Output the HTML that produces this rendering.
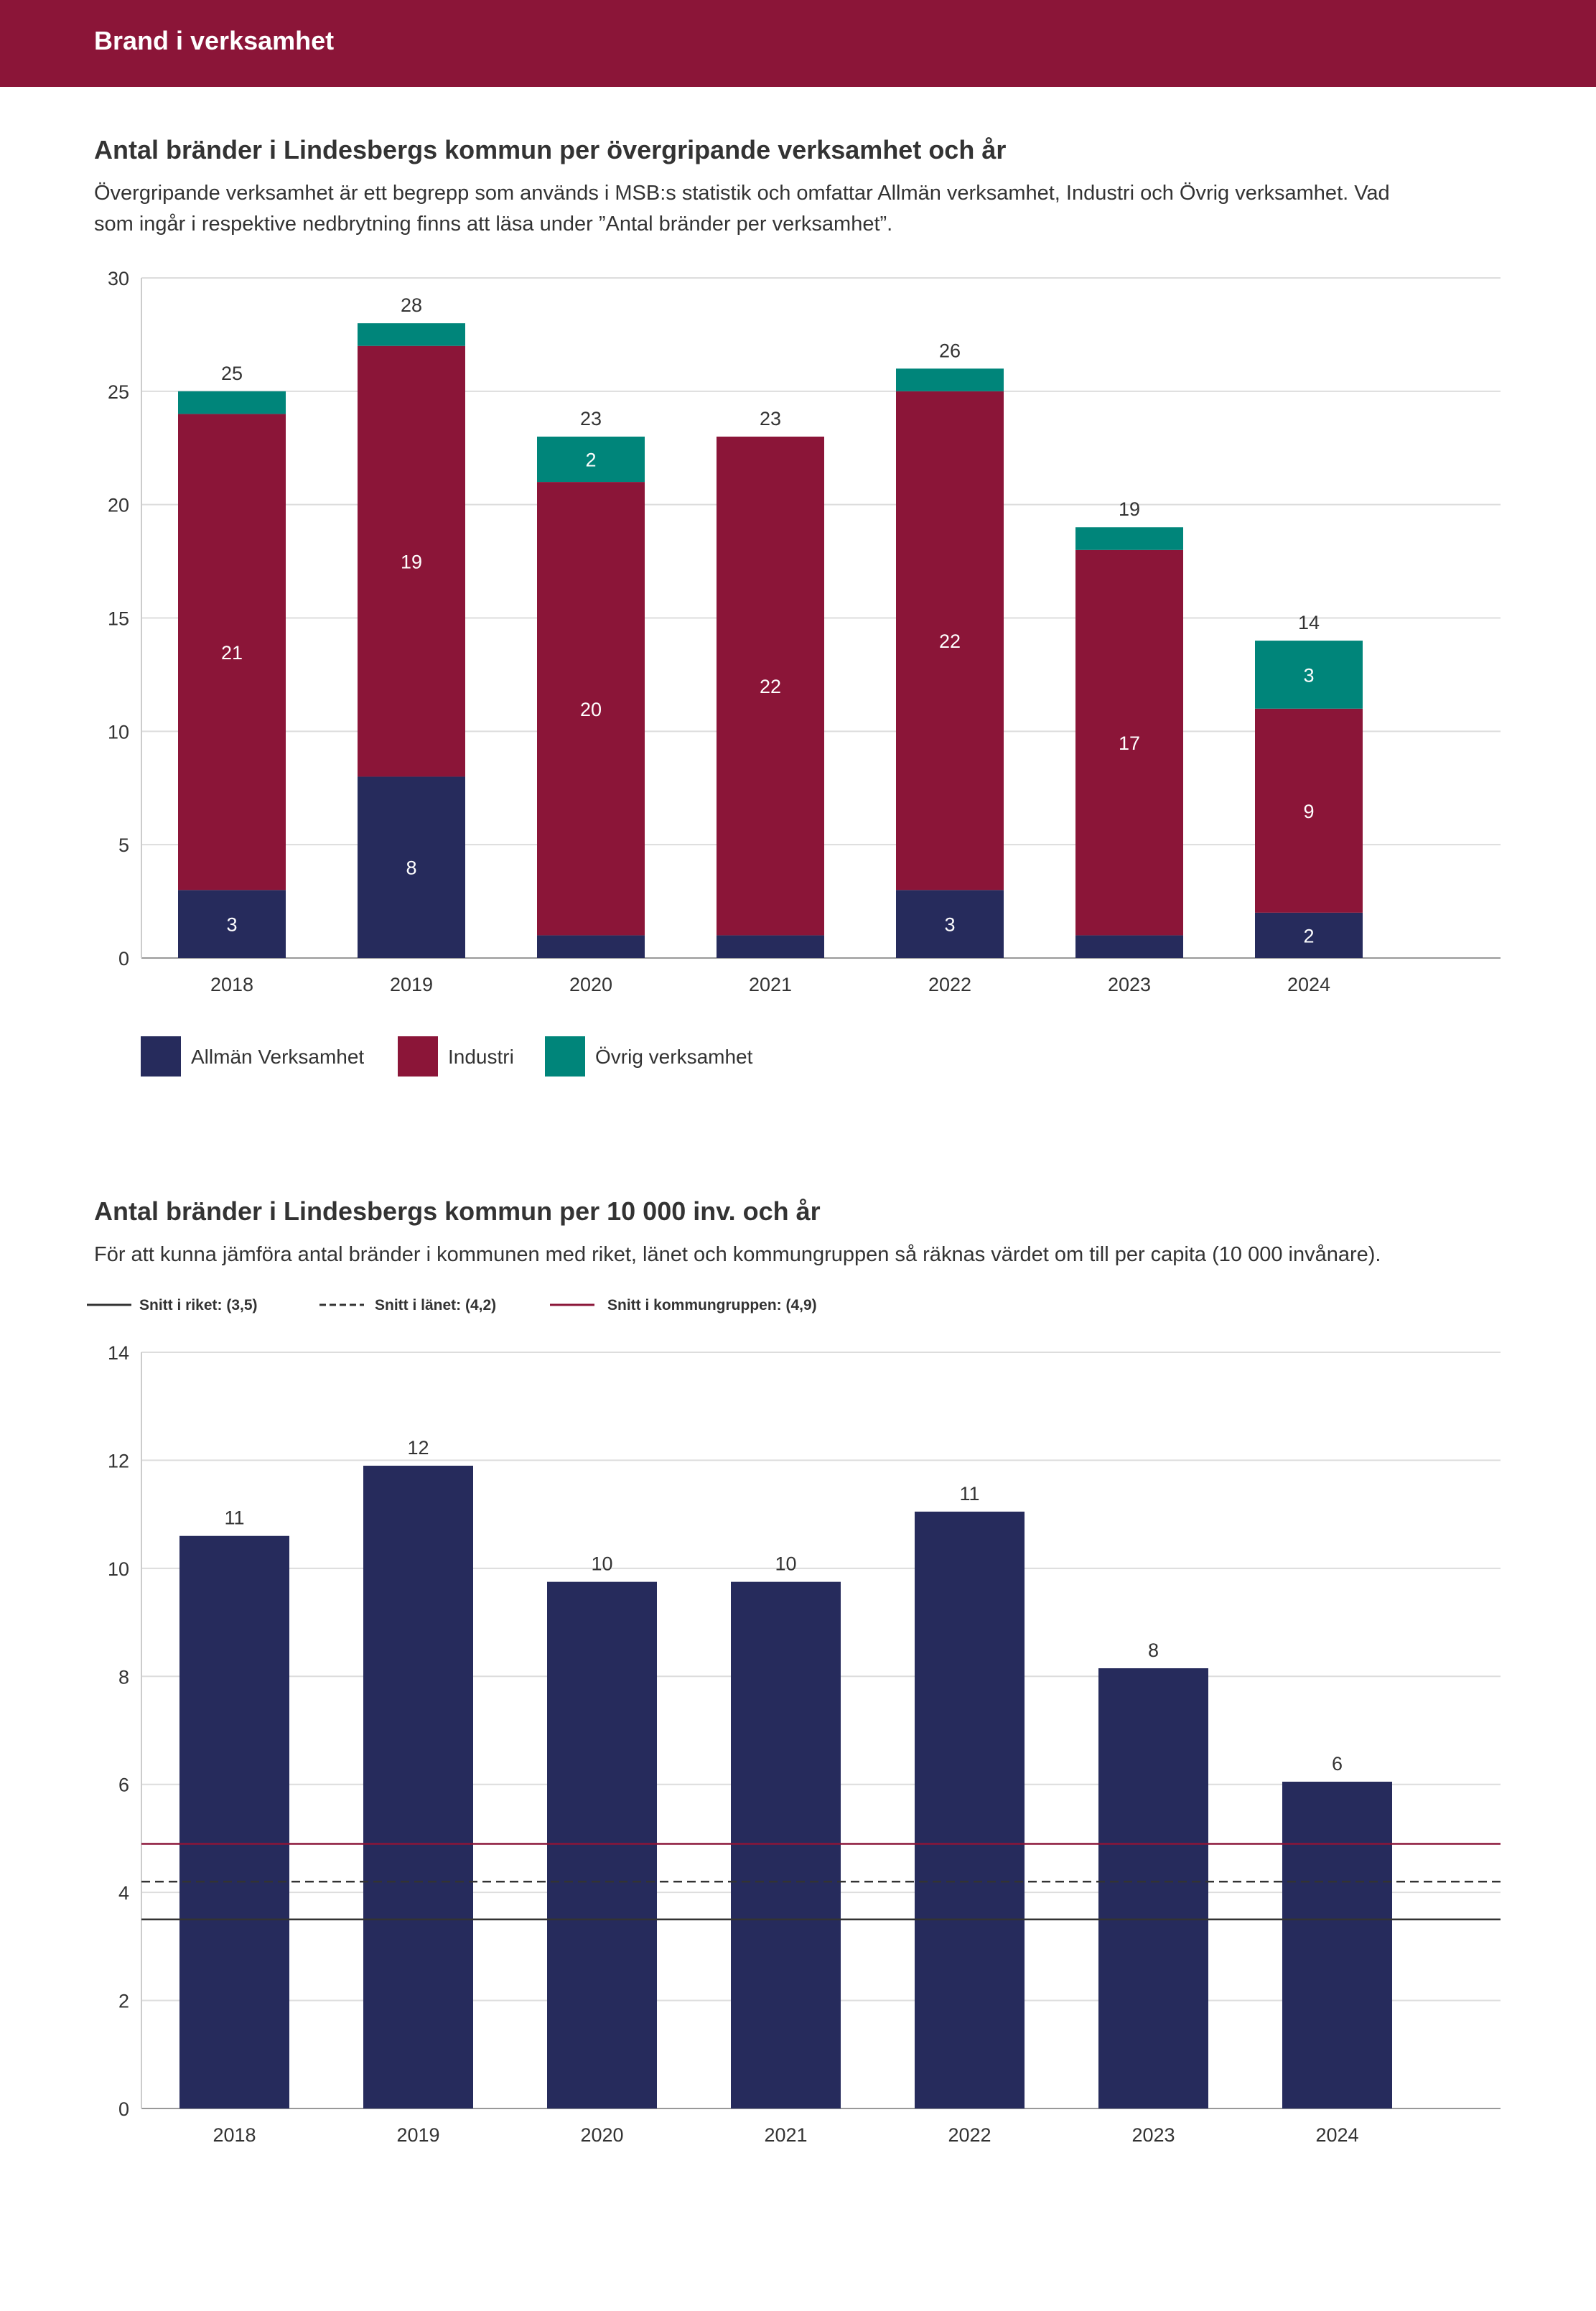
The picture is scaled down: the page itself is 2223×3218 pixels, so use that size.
<!DOCTYPE html>
<html><head><meta charset="utf-8">
<style>
body{margin:0;background:#fff;font-family:"Liberation Sans",sans-serif;}
svg text{font-family:"Liberation Sans",sans-serif;}
</style></head>
<body>
<svg id="page" width="2223" height="3213" viewBox="0 0 2223 3213" xmlns="http://www.w3.org/2000/svg">
<rect x="0" y="0" width="2223" height="121" fill="#8B1538"/>
<text x="131" y="69" font-size="36" font-weight="bold" fill="#fff">Brand i verksamhet</text>
<text x="131" y="221" font-size="36" font-weight="bold" fill="#333">Antal bränder i Lindesbergs kommun per övergripande verksamhet och år</text>
<text x="131" y="278" font-size="29" fill="#333">Övergripande verksamhet är ett begrepp som används i MSB:s statistik och omfattar Allmän verksamhet, Industri och Övrig verksamhet. Vad</text>
<text x="131" y="321" font-size="29" fill="#333">som ingår i respektive nedbrytning finns att läsa under ”Antal bränder per verksamhet”.</text>
<g id="c1"></g>
<g>
<rect x="196" y="1443" width="56" height="56" fill="#262B5C"/>
<text x="266" y="1481" font-size="28" fill="#333">Allmän Verksamhet</text>
<rect x="554" y="1443" width="56" height="56" fill="#8B1538"/>
<text x="624" y="1481" font-size="28" fill="#333">Industri</text>
<rect x="759" y="1443" width="56" height="56" fill="#00857A"/>
<text x="829" y="1481" font-size="28" fill="#333">Övrig verksamhet</text>
</g>
<text x="131" y="1699" font-size="36" font-weight="bold" fill="#333">Antal bränder i Lindesbergs kommun per 10 000 inv. och år</text>
<text x="131" y="1756" font-size="29" fill="#333">För att kunna jämföra antal bränder i kommunen med riket, länet och kommungruppen så räknas värdet om till per capita (10 000 invånare).</text>
<g>
<line x1="121" y1="1817" x2="183" y2="1817" stroke="#333" stroke-width="3"/>
<text x="194" y="1824" font-size="21" font-weight="bold" fill="#333">Snitt i riket: (3,5)</text>
<line x1="445" y1="1817" x2="507" y2="1817" stroke="#333" stroke-width="3" stroke-dasharray="9,5"/>
<text x="522" y="1824" font-size="21" font-weight="bold" fill="#333">Snitt i länet: (4,2)</text>
<line x1="766" y1="1817" x2="828" y2="1817" stroke="#8B1538" stroke-width="3"/>
<text x="846" y="1824" font-size="21" font-weight="bold" fill="#333">Snitt i kommungruppen: (4,9)</text>
</g>
<g id="c2"></g>
</svg>
<script>
const years = ["2018","2019","2020","2021","2022","2023","2024"];
const allman = [3,8,1,1,3,1,2];
const industri = [21,19,20,22,22,17,9];
const ovrig = [1,1,2,0,1,1,3];
const totals1 = [25,28,23,23,26,19,14];
const ticks1 = [0,5,10,15,20,25,30];
const perCapita = [10.6,11.9,9.75,9.75,11.05,8.15,6.05];
const perCapitaLabels = ["11","12","10","10","11","8","6"];
const ticks2 = [0,2,4,6,8,10,12,14];
const avgRiket = 3.5, avgLanet = 4.2, avgGrupp = 4.9;

const NS="http://www.w3.org/2000/svg";
function mk(parent,tag,attrs,txt){const e=document.createElementNS(NS,tag);for(const k in attrs)e.setAttribute(k,attrs[k]);if(txt!==undefined)e.textContent=txt;parent.appendChild(e);return e;}

// Chart 1
(function(){
const g=document.getElementById('c1');
const x0=197,x1=2090,y0=1334,yTop=387,max=30;
const y=v=>y0-(v/max)*(y0-yTop);
const bx=i=>248+i*250, bw=150;
ticks1.forEach(t=>{
 const l=mk(g,'line',{x1:x0,x2:x1,y1:y(t),y2:y(t),stroke:t===0?'#999':'#ddd','stroke-width':2});
 
 
 const tx=mk(g,'text',{x:180,y:y(t)+10,'font-size':27,fill:'#333','text-anchor':'end'},String(t));
 
 
});
mk(g,'line',{x1:x0,x2:x0,y1:yTop,y2:y0,stroke:'#ccc','stroke-width':2});
const series=[[allman,'#262B5C','allman'],[industri,'#8B1538','industri'],[ovrig,'#00857A','ovrig']];
years.forEach((yr,i)=>{
 let base=0;
 series.forEach(([arr,col,nm])=>{
  const v=arr[i]; if(v<=0) return;
  const r=mk(g,'rect',{x:bx(i),y:y(base+v),width:bw,height:y(base)-y(base+v),fill:col});
  
  
  if(v>=2){
   const t=mk(g,'text',{x:bx(i)+bw/2,y:(y(base)+y(base+v))/2+10,'font-size':27,fill:'#fff','text-anchor':'middle'},String(v));
   
   
  }
  base+=v;
 });
 const tt=mk(g,'text',{x:bx(i)+bw/2,y:y(base)-16,'font-size':27,fill:'#333','text-anchor':'middle'},String(totals1[i]));
 
 
 const xl=mk(g,'text',{x:bx(i)+bw/2,y:1380,'font-size':27,fill:'#333','text-anchor':'middle'},yr);
 
 
});
})();

// Chart 2
(function(){
const g=document.getElementById('c2');
const x0=197,x1=2090,y0=2936,yTop=1883,max=14;
const y=v=>y0-(v/max)*(y0-yTop);
const bx=i=>250+i*256, bw=153;
ticks2.forEach(t=>{
 const l=mk(g,'line',{x1:x0,x2:x1,y1:y(t),y2:y(t),stroke:t===0?'#999':'#ddd','stroke-width':2});
 
 
 const tx=mk(g,'text',{x:180,y:y(t)+10,'font-size':27,fill:'#333','text-anchor':'end'},String(t));
 
 
});
mk(g,'line',{x1:x0,x2:x0,y1:yTop,y2:y0,stroke:'#ccc','stroke-width':2});
years.forEach((yr,i)=>{
 const v=perCapita[i];
 const r=mk(g,'rect',{x:bx(i),y:y(v),width:bw,height:y0-y(v),fill:'#262B5C'});
 
 
 const t=mk(g,'text',{x:bx(i)+bw/2,y:y(v)-16,'font-size':27,fill:'#333','text-anchor':'middle'},perCapitaLabels[i]);
 
 
 const xl=mk(g,'text',{x:bx(i)+bw/2,y:2982,'font-size':27,fill:'#333','text-anchor':'middle'},yr);
 
 
});
const a=mk(g,'line',{x1:x0,x2:x1,y1:y(avgRiket),y2:y(avgRiket),stroke:'#333','stroke-width':2.5});


const b=mk(g,'line',{x1:x0,x2:x1,y1:y(avgLanet),y2:y(avgLanet),stroke:'#333','stroke-width':2.5,'stroke-dasharray':'12,7'});


const c=mk(g,'line',{x1:x0,x2:x1,y1:y(avgGrupp),y2:y(avgGrupp),stroke:'#8B1538','stroke-width':2.5});


})();
</script>
</body></html>
